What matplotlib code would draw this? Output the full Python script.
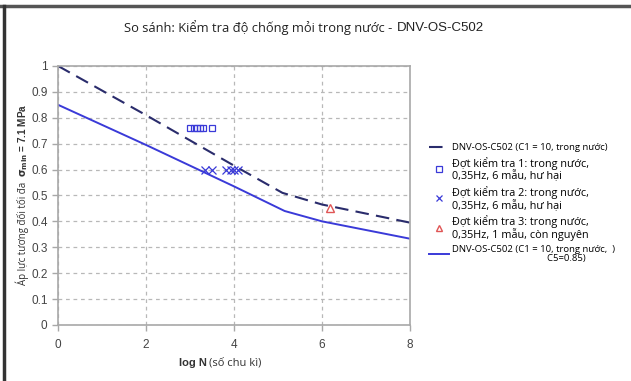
import matplotlib
matplotlib.use("Agg")
import matplotlib.pyplot as plt
from matplotlib.lines import Line2D

# S-N curves (relative stress vs log N)
curve_x = [0, 2, 4, 5.1, 6, 8]
curve_dash_y = [1.0, 0.81, 0.615, 0.51, 0.465, 0.395]
solid_x = [0, 2, 4, 5.15, 6, 8]
curve_solid_y = [0.85, 0.695, 0.535, 0.44, 0.40, 0.333]

# test results
test1_x = [3.0, 3.08, 3.15, 3.22, 3.3, 3.5]
test1_y = [0.76, 0.76, 0.76, 0.76, 0.76, 0.76]
test2_x = [3.35, 3.5, 3.82, 3.92, 4.0, 4.08]
test2_y = [0.6, 0.6, 0.6, 0.6, 0.6, 0.6]
test3_x = [6.18]
test3_y = [0.45]

x_ticks = [0, 2, 4, 6, 8]
y_ticks = [0, 0.1, 0.2, 0.3, 0.4, 0.5, 0.6, 0.7, 0.8, 0.9, 1]
y_ticklabels = ["0", "0.1", "0.2", "0.3", "0.4", "0.5", "0.6", "0.7", "0.8", "0.9", "1"]

labels = [
    "DNV-OS-C502 (C1 = 10, trong nước)",
    "Đợt kiểm tra 1: trong nước,\n0,35Hz, 6 mẫu, hư hại",
    "Đợt kiểm tra 2: trong nước,\n0,35Hz, 6 mẫu, hư hại",
    "Đợt kiểm tra 3: trong nước,\n0,35Hz, 1 mẫu, còn nguyên",
    "DNV-OS-C502 (C1 = 10, trong nước,  )\n                                      C5=0.85)",
]

VI = ["Open Sans", "DejaVu Sans"]
AR = ["Liberation Sans", "DejaVu Sans"]
navy = "#2a2c6c"
blue = "#3a3ad8"
red = "#e05555"
gray = "#a8a8a8"

fig = plt.figure(figsize=(6.31, 3.81), dpi=100)
ax = fig.add_axes([0.0919, 0.147, 0.558, 0.680])

ax.plot(curve_x, curve_dash_y, color=navy, lw=1.5, dashes=(6.5, 3.5))
ax.plot(solid_x, curve_solid_y, color=blue, lw=1.4)
ax.plot(test1_x, test1_y, ls="none", marker="s", ms=5, mfc="none", mec=blue, mew=0.9)
ax.plot(test2_x, test2_y, ls="none", marker="x", ms=5.5, color=blue, mew=0.9)
ax.plot(test3_x, test3_y, ls="none", marker="^", ms=6, mfc="none", mec=red, mew=1.0)

ax.set_xlim(0, 8)
ax.set_ylim(0, 1)
ax.set_xticks(x_ticks)
ax.set_yticks(y_ticks)
ax.set_yticklabels(y_ticklabels)
ax.grid(True, color="#b8b8b8", ls=(0, (3, 3)), lw=0.9)
for s in ax.spines.values():
    s.set_color(gray)
    s.set_linewidth(1.2)
ax.tick_params(colors=gray, labelcolor="#444444", length=4, width=1, labelsize=8.5)
for t in ax.get_xticklabels() + ax.get_yticklabels():
    t.set_family(AR)
ax.tick_params(axis="x", pad=6)

# title
fig.text(0.627, 0.929, "So sánh: Kiểm tra độ chống mỏi trong nước - ",
         ha="right", va="center", fontsize=9.3, family=VI, color="#222222")
fig.text(0.629, 0.927, "DNV-OS-C502", ha="left", va="center",
         fontsize=9.5, family=AR, color="#222222")

# axis labels
fig.text(0.328, 0.047, "log N", ha="right", va="center", fontsize=8,
         family=AR, weight="bold", color="#333333")
fig.text(0.331, 0.047, "(số chu kì)", ha="left", va="center", fontsize=8,
         family=VI, color="#333333")
fig.text(0.036, 0.388, "Áp lực tương đối tối đa", rotation=90, ha="center",
         va="center", fontsize=7, family=VI, color="#333333")
fig.text(0.036, 0.535, r"$\mathbf{\sigma_{min}}$ = 7.1 MPa", rotation=90,
         ha="center", va="bottom", fontsize=7.2, family=AR, weight="bold",
         color="#333333")

handles = [
    Line2D([], [], color=navy, lw=1.5, dashes=(6.5, 3.5)),
    Line2D([], [], ls="none", marker="s", ms=4, mfc="none", mec=blue, mew=0.9),
    Line2D([], [], ls="none", marker="x", ms=4, color=blue, mew=0.9),
    Line2D([], [], ls="none", marker="^", ms=4.5, mfc="none", mec=red, mew=1.0),
    Line2D([], [], color=blue, lw=1.4),
]
leg = fig.legend(handles, labels, loc="upper left", bbox_to_anchor=(0.68, 0.625),
                 frameon=False, prop={"family": VI, "size": 7.8},
                 handlelength=1.8, handletextpad=0.3, labelspacing=0.4,
                 borderaxespad=0, borderpad=0)
texts = leg.get_texts()
for t in texts:
    t.set_linespacing(1.0)
texts[0].set_fontsize(6.8)
texts[4].set_fontsize(6.8)

# screenshot frame (top and left)
fig.add_artist(Line2D([0, 1], [0.984, 0.984], color="#555555", lw=2.5, transform=fig.transFigure))
fig.add_artist(Line2D([0.007, 0.007], [0, 0.984], color="#333333", lw=2.5, transform=fig.transFigure))

fig.savefig("out.png", dpi=100, facecolor="white")
